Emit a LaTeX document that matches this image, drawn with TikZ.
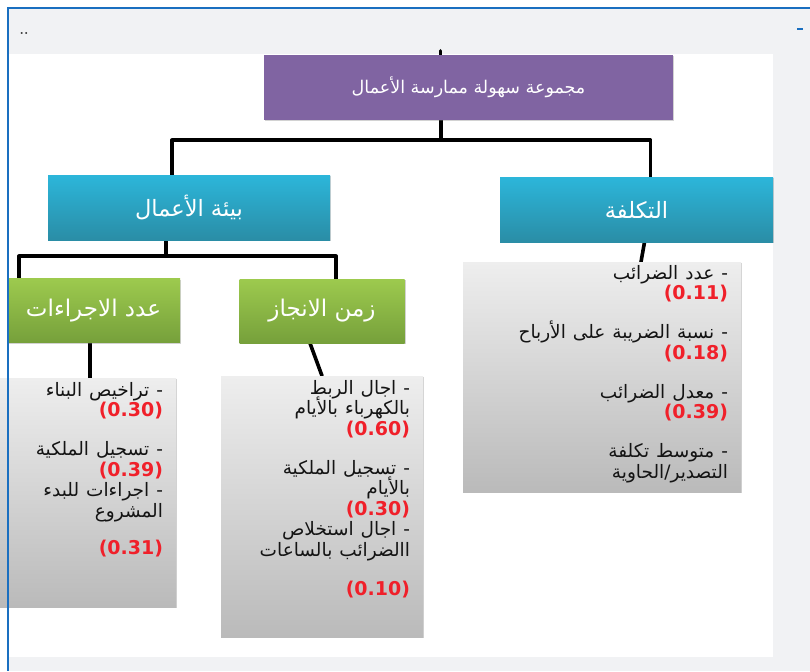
\documentclass[tikz,border=0pt]{standalone}
\usepackage{fontspec}
\usetikzlibrary{shadows}
\TeXXeTstate=1
\newfontfamily\arabicfont[Script=Arabic]{DejaVu Sans}
\newfontfamily\numfont{DejaVu Sans}
\definecolor{pagegrey}{HTML}{F1F2F4}
\definecolor{bluel}{HTML}{1A6FC0}
\definecolor{purp}{HTML}{8064A2}
\definecolor{blueTop}{HTML}{2CB6DA}
\definecolor{blueBot}{HTML}{2A8DA6}
\definecolor{greenTop}{HTML}{9DCA4E}
\definecolor{greenBot}{HTML}{76A03B}
\definecolor{greyTop}{HTML}{EEEEEE}
\definecolor{greyBot}{HTML}{BABABA}
\definecolor{numred}{HTML}{F0202A}
\newcommand\artext[1]{\beginR #1\endR}
\newcommand\rednum[1]{{\numfont\bfseries\fontsize{19}{20.5}\selectfont\color{numred}#1}}
\newcommand\listfont{\arabicfont\fontsize{18.5}{20.5}\selectfont
  \lineskiplimit=-40pt\relax\lineskip=0pt\relax\spaceskip=7pt plus 2pt\relax}
\pgfdeclarelayer{back}\pgfdeclarelayer{mid}\pgfdeclarelayer{front}
\pgfsetlayers{back,mid,main,front}
\tikzset{
  box/.style={inner sep=0pt, drop shadow={opacity=0.35, shadow xshift=1.2pt, shadow yshift=-1.2pt}},
  purplebox/.style={box, fill=purp, minimum width=409pt, minimum height=65pt, text=white,
    font=\arabicfont\fontsize{17.5}{20}\selectfont},
  bluebox/.style={box, top color=blueTop, bottom color=blueBot, minimum height=65pt, text=white,
    font=\arabicfont\fontsize{22.5}{24}\selectfont},
  greenbox/.style={box, top color=greenTop, bottom color=greenBot, minimum height=64pt, text=white,
    font=\arabicfont\fontsize{23}{24}\selectfont},
  greybox/.style={box, top color=greyTop, bottom color=greyBot},
  listtext/.style={anchor=north east, align=right, inner sep=0pt, text=black!92, font=\listfont},
  conn/.style={line width=3.6pt, black, line cap=round, line join=round}
}
\begin{document}
\begin{tikzpicture}[x=1pt, y=-1pt]
\useasboundingbox (0,0) rectangle (810,671);
\begin{pgfonlayer}{back}
  \fill[white] (0,0) rectangle (810,671);
  \fill[pagegrey] (8,8) rectangle (810,671);
  \fill[white] (9,54) rectangle (773,657);
\end{pgfonlayer}

\node[font=\fontsize{14}{16}\selectfont\bfseries, text=black!80] (dots) at (24,33) {..};

\node[purplebox] (top) at (468.5,87.5) {\artext{مجموعة سهولة ممارسة الأعمال}};
\node[bluebox, minimum width=282pt] (env) at (189,207.5) {\artext{بيئة الأعمال}};
\node[bluebox, minimum width=273pt] (cost) at (636.5,209.5) {\artext{التكلفة}};
\node[greenbox, minimum width=173pt] (proc) at (93.5,310.5) {\artext{عدد الاجراءات}};
\node[greenbox, minimum width=165pt] (time) at (322,311) {\artext{زمن الانجاز}};

\node[greybox, minimum width=176pt, minimum height=229pt] (gL) at (88,492.5) {};
\node[greybox, minimum width=202pt, minimum height=261pt] (gM) at (322,506.5) {};
\node[greybox, minimum width=278pt, minimum height=230pt] (gR) at (602,377) {};

\node[listtext] (tR) at ([xshift=-13pt,yshift=-3pt]gR.north east) {%
\artext{- عدد الضرائب}\\
\rednum{(0.11)}\\[18.5pt]
\artext{- نسبة الضريبة على الأرباح}\\
\rednum{(0.18)}\\[18.5pt]
\artext{- معدل الضرائب}\\
\rednum{(0.39)}\\[18.5pt]
\artext{- متوسط تكلفة}\\
\artext{التصدير/الحاوية}};

\node[listtext] (tL) at ([xshift=-13pt,yshift=-4pt]gL.north east) {%
\artext{- تراخيص البناء}\\
\rednum{(0.30)}\\[18.5pt]
\artext{- تسجيل الملكية}\\
\rednum{(0.39)}\\
\artext{- اجراءات للبدء}\\
\artext{المشروع}\\[17pt]
\rednum{(0.31)}};

\node[listtext] (tM) at ([xshift=-13pt,yshift=-4pt]gM.north east) {%
\artext{- اجال الربط}\\
\artext{بالكهرباء بالأيام}\\
\rednum{(0.60)}\\[18.5pt]
\artext{- تسجيل الملكية}\\
\artext{بالأيام}\\
\rednum{(0.30)}\\
\artext{- اجال استخلاص}\\
\artext{االضرائب بالساعات}\\[18.5pt]
\rednum{(0.10)}};

\begin{pgfonlayer}{mid}
  \draw[conn] ([xshift=-28pt]top.north) -- ([xshift=-28pt,yshift=4pt]top.north);
  \draw[conn] ([xshift=-27.5pt]top.south) -- ([xshift=-27.5pt,yshift=-20pt]top.south) coordinate (busA);
  \draw[conn] ([xshift=-17pt]env.north) |- (busA) -| ([xshift=14pt]cost.north);
  \draw[conn] ([xshift=-23pt]env.south) -- ([xshift=-23pt,yshift=-16pt]env.south) coordinate (busB);
  \draw[conn] ([xshift=-74.5pt]proc.north) |- (busB) -| ([xshift=14pt]time.north);
  \draw[conn] ([xshift=-3.5pt]proc.south) -- ([xshift=2pt]gL.north);
  \draw[conn] ([xshift=-12pt]time.south) -- (gM.north);
  \draw[conn] ([xshift=8pt]cost.south) -- ([xshift=39pt]gR.north);
\end{pgfonlayer}

\begin{pgfonlayer}{front}
  \draw[bluel, line width=2pt] (7,8) -- (810,8);
  \draw[bluel, line width=2pt] (8,8) -- (8,671);
  \draw[bluel, line width=1.5pt] (797,29) -- (803,29);
\end{pgfonlayer}
\end{tikzpicture}
\end{document}
